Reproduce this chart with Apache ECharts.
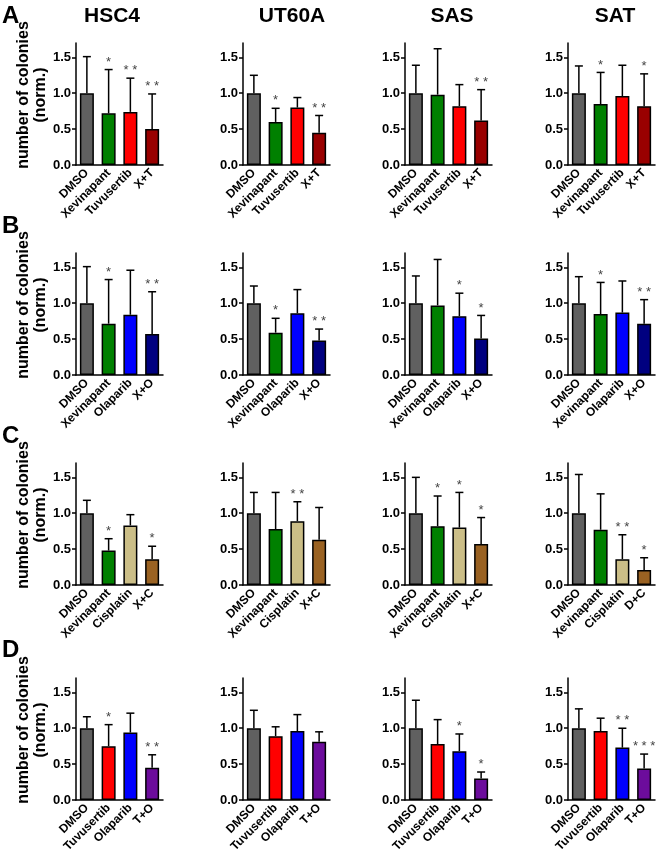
<!DOCTYPE html>
<html>
<head>
<meta charset="utf-8">
<script src="https://cdn.jsdelivr.net/npm/echarts@6/dist/echarts.min.js"></script>
<style>
body { margin: 0; background: #fff; }
#main { width: 661px; height: 861px; }
</style>
</head>
<body>
<div id="main"></div>
<script>
// 细胞系 / 行标
var cellLines = ['HSC4', 'UT60A', 'SAS', 'SAT'];
var rowLetters = ['A', 'B', 'C', 'D'];

// 各行的处理组
var catsA = ['DMSO', 'Xevinapant', 'Tuvusertib', 'X+T'];
var catsB = ['DMSO', 'Xevinapant', 'Olaparib', 'X+O'];
var catsC = ['DMSO', 'Xevinapant', 'Cisplatin', 'X+C'];
var catsCsat = ['DMSO', 'Xevinapant', 'Cisplatin', 'D+C'];
var catsD = ['DMSO', 'Tuvusertib', 'Olaparib', 'T+O'];

var yTicks = [0, 0.5, 1.0, 1.5];

// 行 A: 均值 / 误差上端 / 显著性
var meanA = [[1.0, 0.72, 0.74, 0.50], [1.0, 0.60, 0.80, 0.45], [1.0, 0.98, 0.82, 0.62], [1.0, 0.85, 0.96, 0.82]];
var upperA = [[1.51, 1.33, 1.21, 0.99], [1.25, 0.79, 0.94, 0.69], [1.39, 1.62, 1.12, 1.05], [1.38, 1.29, 1.39, 1.27]];
var starsA = [['', '*', '**', '**'], ['', '*', '', '**'], ['', '', '', '**'], ['', '*', '', '*']];

// 行 B
var meanB = [[1.0, 0.715, 0.84, 0.57], [1.0, 0.59, 0.86, 0.48], [1.0, 0.97, 0.82, 0.51], [1.0, 0.85, 0.87, 0.715]];
var upperB = [[1.51, 1.33, 1.46, 1.16], [1.24, 0.79, 1.19, 0.64], [1.38, 1.61, 1.14, 0.83], [1.37, 1.29, 1.31, 1.05]];
var starsB = [['', '*', '', '**'], ['', '*', '', '**'], ['', '', '*', '*'], ['', '*', '', '**']];

// 行 C
var meanC = [[1.0, 0.48, 0.83, 0.36], [1.0, 0.78, 0.89, 0.63], [1.0, 0.82, 0.80, 0.57], [1.0, 0.77, 0.36, 0.21]];
var upperC = [[1.18, 0.645, 0.98, 0.54], [1.29, 1.29, 1.16, 1.08], [1.50, 1.24, 1.29, 0.94], [1.54, 1.27, 0.70, 0.38]];
var starsC = [['', '*', '', '*'], ['', '', '**', ''], ['', '*', '*', '*'], ['', '', '**', '*']];

// 行 D
var meanD = [[1.0, 0.75, 0.94, 0.45], [1.0, 0.89, 0.96, 0.81], [1.0, 0.78, 0.68, 0.30], [1.0, 0.96, 0.73, 0.44]];
var upperD = [[1.16, 1.05, 1.21, 0.63], [1.25, 1.02, 1.19, 0.95], [1.39, 1.12, 0.92, 0.39], [1.27, 1.14, 1.00, 0.64]];
var starsD = [['', '*', '', '**'], ['', '', '', ''], ['', '', '*', '*'], ['', '', '**', '***']];

// 颜色
var colorsA = ['#606060', '#008000', '#ff0000', '#990000'];
var colorsB = ['#606060', '#008000', '#0000ff', '#000080'];
var colorsC = ['#606060', '#008000', '#cbbe87', '#9a6222'];
var colorsD = ['#606060', '#ff0000', '#0000ff', '#6c0c9c'];

var rows = [
	{ cats: [catsA, catsA, catsA, catsA], mean: meanA, upper: upperA, stars: starsA, colors: colorsA },
	{ cats: [catsB, catsB, catsB, catsB], mean: meanB, upper: upperB, stars: starsB, colors: colorsB },
	{ cats: [catsC, catsC, catsC, catsCsat], mean: meanC, upper: upperC, stars: starsC, colors: colorsC },
	{ cats: [catsD, catsD, catsD, catsD], mean: meanD, upper: upperD, stars: starsD, colors: colorsD }
];

var FONT = 'Liberation Sans, Arial, sans-serif';
var gridLefts = [76, 243, 405, 568];
var gridTops = [43, 253, 463, 678];
var gridW = 87, gridH = 122;
var titleX = [112, 292, 452, 615];
var letterY = [4, 214, 424, 638];

var grids = [], xAxes = [], yAxes = [], series = [], graphics = [];
var errStars = {};

for (var r = 0; r < 4; r++) {
	var row = rows[r];
	for (var c = 0; c < 4; c++) {
		var idx = grids.length;
		grids.push({ left: gridLefts[c], top: gridTops[r], width: gridW, height: gridH });
		xAxes.push({
			gridIndex: idx,
			type: 'category',
			data: row.cats[c],
			axisLine: { lineStyle: { color: '#000', width: 1.5 } },
			axisTick: { alignWithLabel: true, length: 4, lineStyle: { color: '#000', width: 1.5 } },
			axisLabel: { interval: 0, rotate: 45, margin: 6, color: '#000', fontWeight: 'bold', fontSize: 12, fontFamily: FONT }
		});
		yAxes.push({
			gridIndex: idx,
			type: 'value',
			min: 0,
			max: 1.7,
			interval: 0.5,
			splitLine: { show: false },
			axisLine: { show: true, lineStyle: { color: '#000', width: 1.5 } },
			axisTick: { show: true, length: 4, customValues: yTicks, lineStyle: { color: '#000', width: 1.5 } },
			axisLabel: {
				customValues: yTicks, margin: 5, color: '#000', fontWeight: 'bold', fontSize: 13, fontFamily: FONT,
				formatter: function (v) { return v.toFixed(1); }
			},
			name: c === 0 ? 'number of colonies\n(norm.)' : '',
			nameLocation: 'middle',
			nameGap: 27,
			nameTextStyle: { color: '#000', fontWeight: 'bold', fontSize: 16, fontFamily: FONT, lineHeight: 17, padding: [0, 0, 0, 18] }
		});
		var barData = [], errData = [];
		for (var k = 0; k < 4; k++) {
			barData.push({ value: row.mean[c][k], itemStyle: { color: row.colors[k] } });
			errData.push([k, row.mean[c][k], row.upper[c][k]]);
		}
		series.push({
			type: 'bar',
			xAxisIndex: idx,
			yAxisIndex: idx,
			barWidth: 14,
			data: barData,
			itemStyle: { borderColor: '#000', borderWidth: 1.5 }
		});
		errStars[series.length] = row.stars[c];
		series.push({
			type: 'custom',
			xAxisIndex: idx,
			yAxisIndex: idx,
			z: 3,
			data: errData,
			renderItem: function (params, api) {
				var base = api.coord([api.value(0), api.value(1)]);
				var top = api.coord([api.value(0), api.value(2)]);
				var star = errStars[params.seriesIndex][params.dataIndex];
				var lw = { stroke: '#000', lineWidth: 1.5 };
				var children = [
					{ type: 'line', shape: { x1: base[0], y1: base[1], x2: top[0], y2: top[1] }, style: lw },
					{ type: 'line', shape: { x1: top[0] - 4, y1: top[1], x2: top[0] + 4, y2: top[1] }, style: lw }
				];
				if (star) {
					children.push({
						type: 'text', x: top[0], y: top[1] - 1,
						style: { text: star.split('').join(' '), fill: '#444', font: '13px ' + FONT, textAlign: 'center', textVerticalAlign: 'bottom' }
					});
				}
				return { type: 'group', children: children };
			}
		});
	}
}

for (var c = 0; c < 4; c++) {
	graphics.push({
		type: 'text', x: titleX[c], y: 6,
		style: { text: cellLines[c], fill: '#000', font: 'bold 21px ' + FONT, textAlign: 'center' }
	});
}
for (var r = 0; r < 4; r++) {
	graphics.push({
		type: 'text', x: 2, y: letterY[r],
		style: { text: rowLetters[r], fill: '#000', font: 'bold 24px ' + FONT }
	});
}

var myChart = echarts.init(document.getElementById('main'));
myChart.setOption({
	backgroundColor: '#fff',
	animation: false,
	grid: grids,
	xAxis: xAxes,
	yAxis: yAxes,
	series: series,
	graphic: graphics
});
</script>
</body>
</html>
